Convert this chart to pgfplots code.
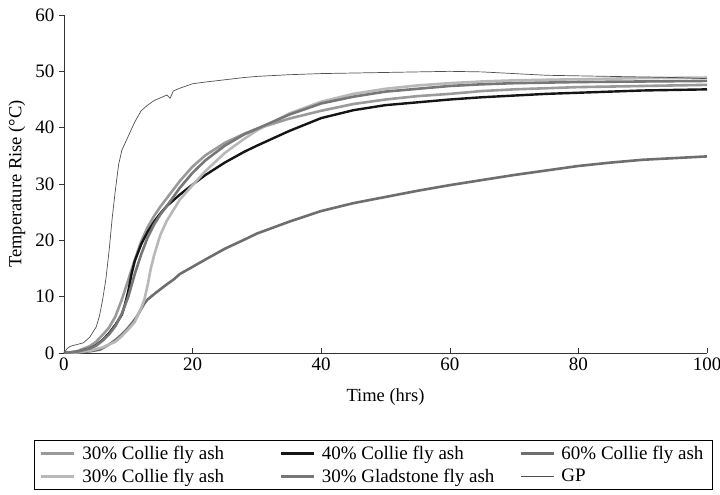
\documentclass[border=0pt]{standalone}
\usepackage{pgfplots}
\pgfplotsset{compat=1.18}
\usepackage{fontspec}
\setmainfont{Liberation Serif}
\definecolor{cA}{HTML}{9A9A9A}
\definecolor{cB}{HTML}{151515}
\definecolor{cC}{HTML}{6E6E6E}
\definecolor{cD}{HTML}{B8B8B8}
\definecolor{cE}{HTML}{777777}
\definecolor{cG}{HTML}{505050}
\begin{document}
\begin{tikzpicture}
\begin{axis}[
  scale only axis, width=643pt, height=338pt,
  at={(0pt,0pt)}, anchor=origin,
  xmin=0, xmax=100, ymin=0, ymax=60,
  axis lines=left, axis line style={-, line width=0.6pt, black!80},
  xtick={0,20,40,60,80,100}, ytick={0,10,20,30,40,50,60},
  tick align=inside, major tick length=5pt,
  tick style={line width=0.6pt, black!80},
  y tick style={xshift=-5pt},
  /pgf/number format/assume math mode=true,
  ticklabel style={font=\fontsize{19}{21}\selectfont},
  xticklabel style={yshift=-1pt},
  yticklabel style={xshift=-6pt},
  xlabel={Time (hrs)}, ylabel={Temperature Rise (°C)},
  label style={font=\fontsize{18.5}{20}\selectfont},
  xlabel style={at={(rel axis cs:0.5,0)}, anchor=center, yshift=-44pt},
  ylabel style={at={(rel axis cs:0,0.5)}, anchor=center, yshift=47pt},
  legend columns=3,
  legend cell align=left,
  legend image code/.code={\draw[#1] (0pt,0pt) -- (33pt,0pt);},
  legend style={at={(rel axis cs:-0.047,-0.2574)}, anchor=north west,
    draw=black, line width=0.8pt, font=\fontsize{19}{21}\selectfont,
    inner xsep=6pt, inner ysep=3pt, row sep=3pt,
    nodes={inner sep=2.5pt}},
]
% 30% Collie fly ash (medium gray)
\addplot[cA, line width=2.6pt, line join=round] coordinates {
(0,0) (2,0.3) (4,1.2) (5,2) (6,3.2) (7,4.5) (8,6.5) (9,9.5) (10,13) (11,16.5) (12,19.8) (13,22.3) (14,24.3) (15,26) (16,27.5) (18,30.5) (20,33.1) (22,35.1) (25,37.3) (28,38.9) (30,39.8) (35,41.6) (40,43) (45,44.2) (50,45.0) (55,45.6) (60,46.0) (65,46.5) (70,46.8) (75,47.0) (80,47.2) (85,47.3) (90,47.4) (95,47.5) (100,47.6)};
\addlegendentry{\makebox[199pt][l]{\hspace*{4pt}30\% Collie fly ash}}
% 40% Collie fly ash (black)
\addplot[cB, line width=2.4pt, line join=round] coordinates {
(0,0) (2,0.2) (4,0.8) (5,1.4) (6,2.3) (7,3.5) (8,5) (9,6.8) (9.5,8.7) (10,11) (10.5,14) (11,16.3) (12,19.3) (13,21.5) (14,23.3) (15,24.8) (16,26.1) (18,28.1) (20,29.9) (22,31.6) (25,33.8) (28,35.7) (30,36.8) (35,39.4) (40,41.7) (45,43.1) (50,44.0) (55,44.5) (60,45.0) (65,45.4) (70,45.7) (75,46) (80,46.2) (85,46.4) (90,46.6) (95,46.7) (100,46.8)};
\addlegendentry{\makebox[199pt][l]{\hspace*{4pt}40\% Collie fly ash}}
% 60% Collie fly ash (dark gray, low curve)
\addplot[cC, line width=2.6pt, line join=round] coordinates {
(0,0) (2,0.1) (4,0.3) (5.6,0.6) (7,1.5) (8,2.3) (9,3.3) (9.7,4.1) (10.5,5.2) (11.3,6.4) (12,7.8) (12.5,8.8) (13,9.5) (14.4,10.8) (16,12.2) (17,13) (18,14) (20,15.3) (22,16.6) (25,18.5) (28,20.1) (30,21.2) (35,23.3) (40,25.2) (45,26.6) (50,27.7) (55,28.8) (60,29.8) (65,30.7) (70,31.6) (75,32.4) (80,33.2) (85,33.8) (90,34.3) (95,34.6) (100,34.9)};
\addlegendentry{\hspace*{4pt}60\% Collie fly ash}
% 30% Collie fly ash (light gray)
\addplot[cD, line width=2.6pt, line join=round] coordinates {
(0,0) (2,0.1) (4,0.4) (6,1) (8,2) (9,3) (10,4.2) (11,5.5) (12,8) (12.5,9.5) (13,12) (13.5,15) (14,17.3) (14.5,19.2) (15,21) (16,23.5) (18,27.2) (20,29.8) (22,32.3) (25,35.5) (28,38) (30,39.5) (35,42.5) (40,44.6) (45,46.0) (50,46.9) (55,47.5) (60,47.9) (65,48.2) (70,48.4) (75,48.5) (80,48.6) (90,48.8) (100,48.9)};
\addlegendentry{\makebox[199pt][l]{\hspace*{4pt}30\% Collie fly ash}}
% 30% Gladstone fly ash (dark gray)
\addplot[cE, line width=2.6pt, line join=round] coordinates {
(0,0) (2,0.2) (4,0.8) (5,1.3) (6,2.2) (7,3.3) (8,4.8) (9,7) (10,10) (11,14) (12,17.5) (13,20.5) (14,22.8) (15,24.6) (16,26.1) (18,29.3) (20,32) (22,34.2) (25,36.8) (28,38.8) (30,39.8) (35,42.3) (40,44.3) (45,45.5) (50,46.4) (55,46.9) (60,47.4) (65,47.7) (70,47.9) (75,48.0) (80,48.1) (90,48.2) (100,48.3)};
\addlegendentry{\makebox[199pt][l]{\hspace*{4pt}30\% Gladstone fly ash}}
% GP (thin)
\addplot[cG, line width=0.7pt, line join=round] coordinates {
(0,0) (0.5,0.8) (1,1.2) (2,1.5) (3,1.8) (4,2.8) (5,4.6) (5.5,6.5) (6,9.4) (6.5,13) (7,18) (7.5,24) (8,29) (8.5,33.5) (9,36) (10,38.5) (11,41) (12,43) (13,44) (14,44.8) (15,45.3) (16,45.8) (16.5,45.2) (17,46.5) (18,47) (20,47.8) (22,48.1) (25,48.5) (28,48.9) (30,49.1) (35,49.4) (40,49.6) (45,49.7) (50,49.8) (55,49.9) (60,50) (65,49.9) (70,49.6) (75,49.3) (80,49.2) (85,49.1) (90,49) (95,48.9) (100,48.7)};
\addlegendentry{\hspace*{4pt}GP}
\end{axis}
\pgfresetboundingbox
\path[use as bounding box] (-64pt,-142pt) rectangle (656pt,353pt);
\end{tikzpicture}
\end{document}
